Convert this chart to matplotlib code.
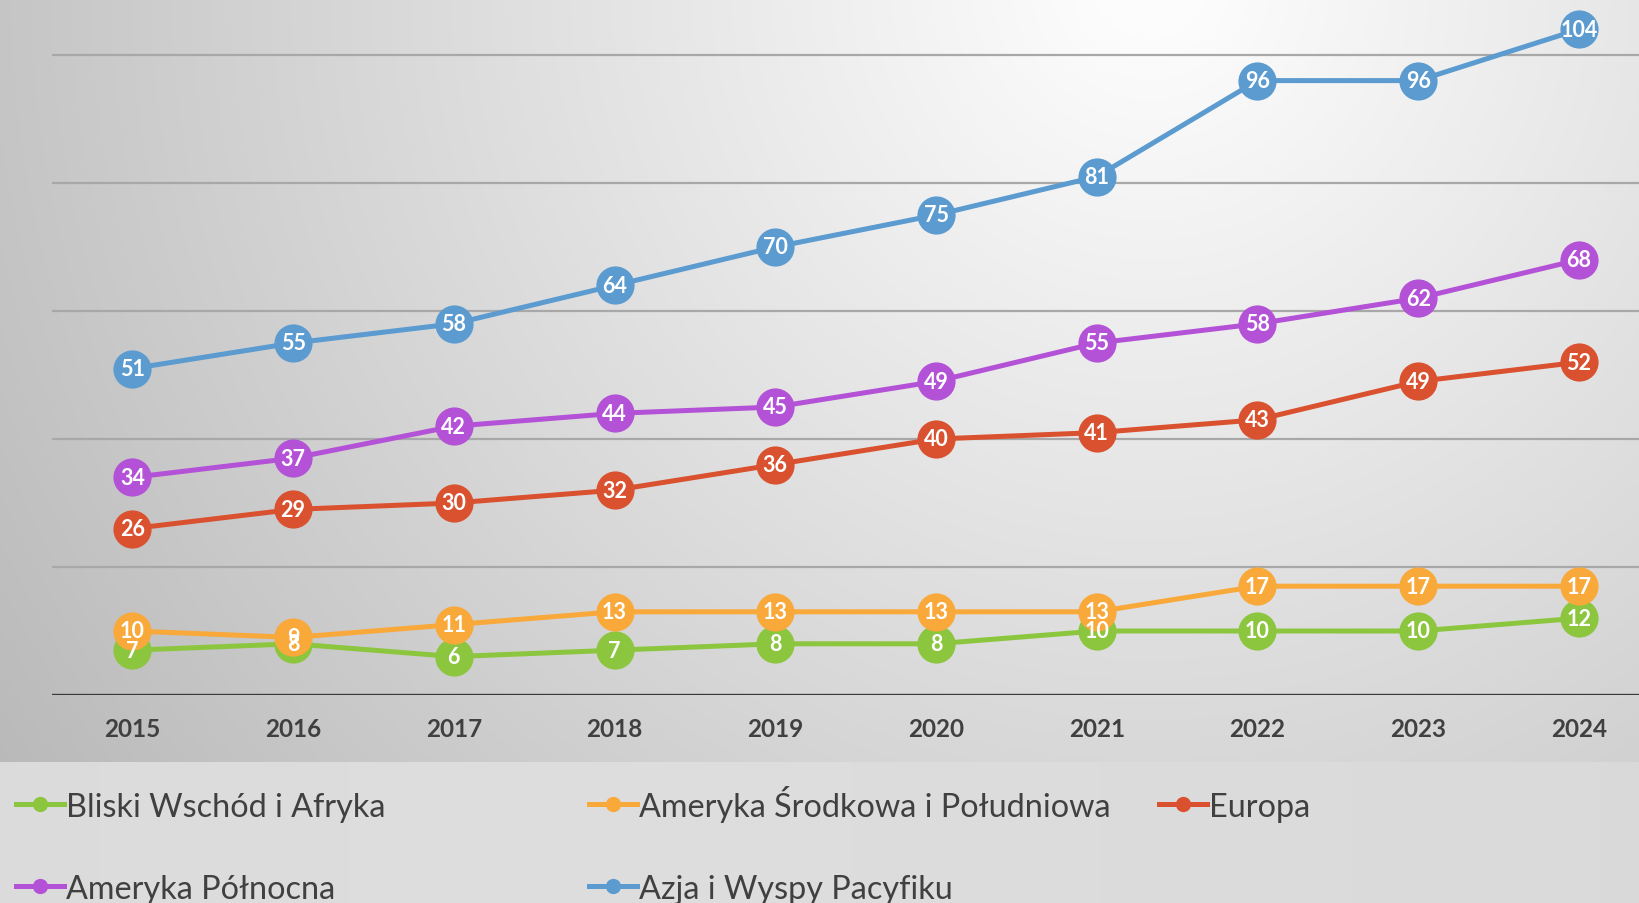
import numpy as np
import matplotlib
matplotlib.use("Agg")
import matplotlib.pyplot as plt
from matplotlib.lines import Line2D

years = ["2015", "2016", "2017", "2018", "2019", "2020", "2021", "2022", "2023", "2024"]

bliski_wschod = [7, 8, 6, 7, 8, 8, 10, 10, 10, 12]
ameryka_srodkowa = [10, 9, 11, 13, 13, 13, 13, 17, 17, 17]
europa = [26, 29, 30, 32, 36, 40, 41, 43, 49, 52]
ameryka_polnocna = [34, 37, 42, 44, 45, 49, 55, 58, 62, 68]
azja = [51, 55, 58, 64, 70, 75, 81, 96, 96, 104]

names = ["Bliski Wschód i Afryka", "Ameryka Środkowa i Południowa", "Europa",
         "Ameryka Północna", "Azja i Wyspy Pacyfiku"]
series = [bliski_wschod, ameryka_srodkowa, europa, ameryka_polnocna, azja]
colors = ["#8cc63e", "#f9a83a", "#d9512f", "#b352d6", "#5b9bd0"]

W, H = 1640, 904
fig = plt.figure(figsize=(W / 100, H / 100), dpi=100)

# background: grey radial-ish gradient for the chart, flat grey strip for the legend
yy, xx = np.mgrid[0:H, 0:W]
d = np.hypot(xx - 1150, yy + 20)
bg = np.clip(255 - 0.05 * d, 185, 252)
bg[763:, :] = 222 - 0.004 * np.abs(xx[763:, :] - 600)
bg_ax = fig.add_axes([0, 0, 1, 1], zorder=-1)
bg_ax.imshow(np.dstack([bg, bg, bg]).astype(np.uint8), aspect="auto")
bg_ax.axis("off")

ax = fig.add_axes([52 / W, (H - 696) / H, 1 - 52 / W, 696 / H])
ax.patch.set_alpha(0)
x = np.arange(len(years))

for i, (vals, c) in enumerate(zip(series, colors)):
    ax.plot(x, vals, color=c, lw=3.6, marker="o", ms=27.5, mew=0,
            solid_capstyle="round", zorder=3 + i, clip_on=False)

for vals in series:
    for xi, v in zip(x, vals):
        ax.text(xi, v, str(v), color="white", fontsize=15.5, fontweight="bold",
                family="Lato", ha="center", va="center", zorder=20)

ax.set_xlim(-0.5, 9.38)
ax.set_ylim(0, 108.75)
for g in [20, 40, 60, 80, 100]:
    ax.axhline(g, color="#a8a8a8", lw=1.6, zorder=1)
ax.axhline(0, color="#3a3a3a", lw=2.4, zorder=2)
for s in ax.spines.values():
    s.set_visible(False)
ax.set_yticks([])
ax.set_xticks(x)
ax.set_xticklabels(years)
ax.tick_params(axis="x", length=0, pad=16, labelsize=17.5, labelcolor="#404040")
for t in ax.get_xticklabels():
    t.set_fontweight("bold")
    t.set_family("Lato")

# legend entries placed like the original two-row layout
spots = [(16, 805), (589, 805), (1159, 805), (16, 887), (589, 887)]
for name, c, (px, py) in zip(names, colors, spots):
    yf = 1 - py / H
    fig.add_artist(Line2D([px / W, (px + 48) / W], [yf, yf], color=c, lw=3.6,
                          transform=fig.transFigure))
    fig.add_artist(Line2D([(px + 24) / W], [yf], color=c, marker="o", ms=11, mew=0,
                          transform=fig.transFigure))
    fig.text((px + 50) / W, 1 - (py + 12) / H, name, family="Lato", fontsize=23.3,
             color="#404040", ha="left", va="baseline")

fig.savefig("out.png", dpi=100)
